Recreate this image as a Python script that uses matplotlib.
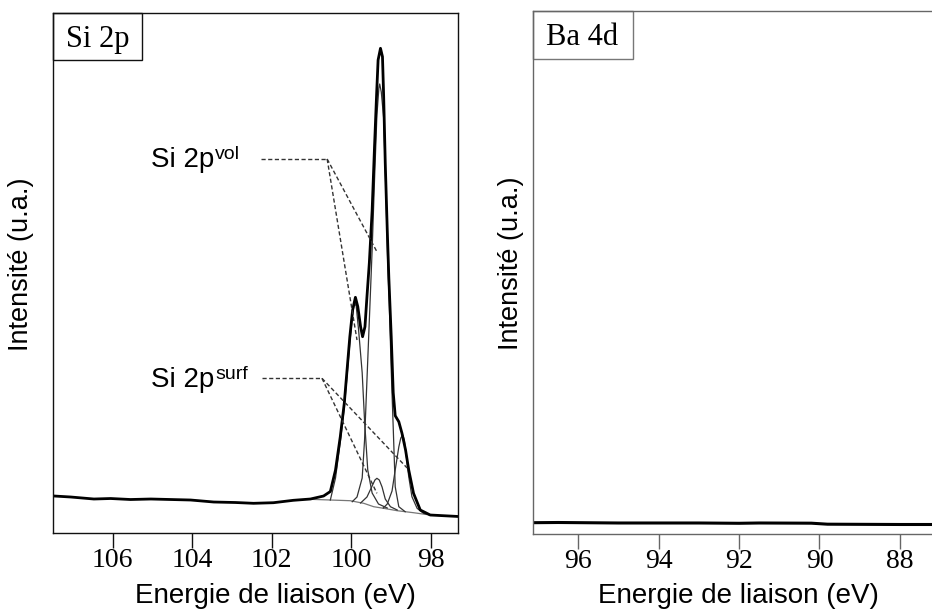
import matplotlib.pyplot as plt
from matplotlib.patches import Rectangle

# ---- Si 2p spectrum (binding energy eV, intensity a.u.)
si_energy = [107.47, 107.05, 106.47, 106.05, 105.55, 105.04, 104.54, 104.04, 103.46,
             102.91, 102.46, 101.96, 101.46, 101.03, 100.70, 100.53, 100.40, 100.28,
             100.18, 100.11, 100.04, 99.97, 99.90, 99.84, 99.77, 99.72, 99.66, 99.61,
             99.55, 99.48, 99.42, 99.37, 99.33, 99.27, 99.22, 99.19, 99.15, 99.10,
             99.06, 99.00, 98.95, 98.90, 98.81, 98.73, 98.64, 98.56, 98.44, 98.27,
             98.02, 97.35]
si_total = [36.7, 35.7, 33.7, 34.2, 33.2, 33.7, 33.2, 32.7, 30.7,
            30.2, 29.4, 30.0, 32.4, 33.7, 36.7, 41.2, 62.7, 96.0,
            129.4, 162.7, 196.0, 222.7, 235.4, 226.0, 206.0, 196.0, 206.0, 236.0,
            270.0, 322.0, 386.0, 436.0, 472.7, 484.4, 476.0, 436.0, 369.4, 302.7,
            254.7, 196.0, 140.0, 117.0, 111.0, 99.4, 82.7, 62.7, 39.4, 22.7,
            17.7, 16.3]

bg_energy = [101.10, 100.53, 100.03, 99.69, 99.44, 99.19, 98.85, 98.44, 98.02, 97.35]
bg_int = [33.5, 32.7, 32.0, 29.4, 26.0, 24.4, 22.0, 20.0, 17.7, 16.3]

# Si 2p volume doublet
vol32_energy = [99.98, 99.86, 99.73, 99.67, 99.61, 99.55, 99.48, 99.42, 99.36, 99.31,
                99.29, 99.25, 99.19, 99.13, 99.09, 99.05, 99.00, 98.95, 98.90, 98.81, 98.65]
vol32_int = [31.0, 35.7, 54.7, 92.7, 152.7, 212.7, 282.7, 352.7, 417.7, 444.7,
             448.7, 440.7, 414.7, 335.7, 272.7, 229.7, 162.7, 105.0, 46.0, 26.0, 21.0]
vol12_energy = [100.53, 100.40, 100.28, 100.18, 100.11, 100.04, 99.97, 99.93, 99.88,
                99.82, 99.73, 99.67, 99.59, 99.48, 99.32, 99.10]
vol12_int = [32.7, 54.7, 90.7, 124.7, 156.7, 189.7, 218.7, 229.7, 226.7,
             202.7, 160.0, 112.0, 62.7, 39.7, 28.7, 24.7]

# Si 2p surface doublet
surf12_energy = [99.77, 99.61, 99.48, 99.41, 99.36, 99.30, 99.23, 99.15, 99.02, 98.85]
surf12_int = [29.7, 35.7, 46.7, 52.7, 54.4, 52.7, 45.7, 33.7, 26.0, 22.7]
surf32_energy = [99.20, 99.10, 98.98, 98.90, 98.81, 98.76, 98.71, 98.67, 98.62, 98.56,
                 98.48, 98.35, 98.19, 98.02]
surf32_int = [24.7, 28.7, 41.7, 62.7, 85.7, 94.7, 97.7, 92.7, 76.0, 56.0,
              36.0, 24.4, 19.4, 17.7]

# ---- Ba 4d window (flat, no signal)
ba_energy = [97.13, 96.5, 95.0, 93.0, 92.0, 91.5, 90.2, 89.8, 88.0, 87.06]
ba_int = [11.3, 11.5, 11.0, 11.0, 10.7, 11.0, 10.8, 9.8, 9.5, 9.5]

si_ticks = [106, 104, 102, 100, 98]
ba_ticks = [96, 94, 92, 90, 88]

# label leader lines: (start of horizontal, knee, [targets])
vol_leader = [(102.28, 373.7), (100.61, 373.7), [(99.36, 281.0), (99.86, 192.7)]]
surf_leader = [(102.24, 154.4), (100.74, 154.4), [(99.36, 39.4), (98.60, 64.7)]]

SANS = 'Liberation Sans'
SERIF = 'Liberation Serif'

fig = plt.figure(figsize=(9.32, 6.10), dpi=100)
ax1 = fig.add_axes([0.0572, 0.1267, 0.4339, 0.8515])
ax2 = fig.add_axes([0.5716, 0.1246, 0.4345, 0.8574])


def style_axes(ax, ticks, xlim, ylim, color, label_x, label_y):
    ax.set_xlim(*xlim)
    ax.set_ylim(*ylim)
    ax.set_xticks(ticks)
    ax.set_yticks([])
    for s in ax.spines.values():
        s.set_color(color)
        s.set_linewidth(1.0)
    ax.tick_params(axis='x', direction='out', length=11, width=1.0, color=color,
                   pad=0, labelsize=20, labelfontfamily=SERIF)
    ax.set_xlabel('Energie de liaison (eV)', fontsize=20, family=SANS)
    ax.xaxis.set_label_coords(label_x, label_y)
    ax.set_ylabel('Intensité (u.a.)', fontsize=19.5, family=SANS)


style_axes(ax1, si_ticks, (107.49, 97.33), (0, 519.4), '#111111', 0.549, -0.0963)
style_axes(ax2, ba_ticks, (97.13, 87.06), (0, 523.0), '#666666', 0.507, -0.0937)
ax1.yaxis.set_label_coords(-0.048, 0.517)
ax2.yaxis.set_label_coords(-0.022, 0.517)
ax2.spines['right'].set_visible(False)

# Si 2p curves
ax1.plot(bg_energy, bg_int, color='#777777', lw=0.9)
for e, i in [(vol32_energy, vol32_int), (vol12_energy, vol12_int),
             (surf12_energy, surf12_int), (surf32_energy, surf32_int)]:
    ax1.plot(e, i, color='#333333', lw=0.9)
ax1.plot(si_energy, si_total, color='black', lw=2.0, solid_joinstyle='round')

# leader lines
for start, knee, targets in (vol_leader, surf_leader):
    ax1.plot([start[0], knee[0]], [start[1], knee[1]], color='#333333', lw=1.0,
             dashes=(3, 1.8))
    for tx, ty in targets:
        ax1.plot([knee[0], tx], [knee[1], ty], color='#333333', lw=1.0, dashes=(3, 1.8))

for base_y, sup in [(366.0, 'vol'), (146.0, 'surf')]:
    t = ax1.text(105.03, base_y, 'Si 2p', fontsize=20, family=SANS, va='baseline', ha='left')
    ax1.annotate(sup, xy=(1, 0), xycoords=t, xytext=(0.5, 10), textcoords='offset points',
                 fontsize=14, family=SANS, va='baseline', ha='left')

# Ba 4d
ax2.plot(ba_energy, ba_int, color='black', lw=2.2)

# panel tags
for ax, tag, w, h, ec, tx in [(ax1, 'Si 2p', 0.2186, 0.090, '#111111', 0.1093),
                              (ax2, 'Ba 4d', 0.2477, 0.092, '#777777', 0.1217)]:
    ax.add_patch(Rectangle((0, 1 - h), w, h, transform=ax.transAxes, fill=False,
                           edgecolor=ec, lw=1.0, clip_on=False))
    ax.text(tx, 0.9357, tag, transform=ax.transAxes, fontsize=22, family=SERIF,
            ha='center', va='baseline')

fig.savefig('out.png', dpi=100)
